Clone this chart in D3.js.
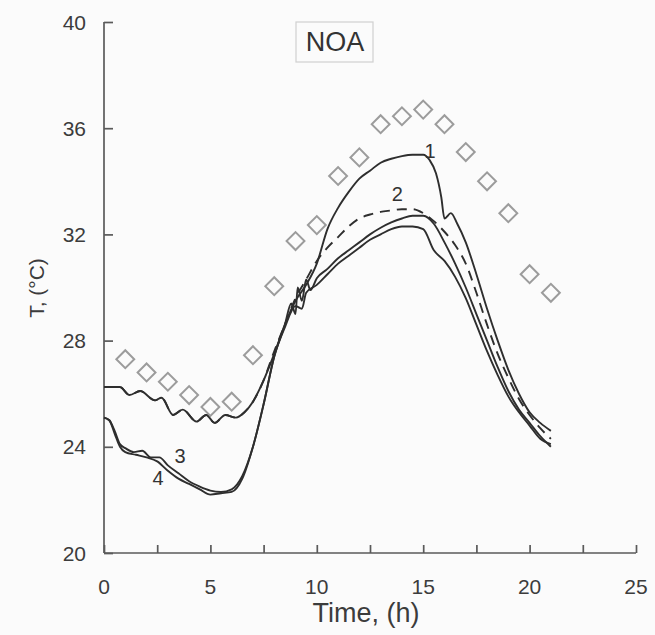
<!DOCTYPE html>
<html><head><meta charset="utf-8">
<script src="https://cdn.jsdelivr.net/npm/d3@7"></script>
<style>body{margin:0;background:#fbfbfb;} svg{display:block;}</style>
</head><body>
<svg id="c" width="655" height="635"></svg>
<script>
// ---- data ----
const xTicks = [0, 5, 10, 15, 20, 25];
const xMinorTicks = [0, 2.5, 5, 7.5, 10, 12.5, 15, 17.5, 20, 22.5, 25];
const yTicks = [20, 24, 28, 32, 36, 40];
const obsHours = [1,2,3,4,5,6,7,8,9,10,11,12,13,14,15,16,17,18,19,20,21];
const obsTemps = [27.3,26.8,26.45,25.95,25.5,25.7,27.45,30.05,31.75,32.35,34.2,34.9,36.15,36.45,36.7,36.15,35.1,34.0,32.8,30.5,29.8];

const c1t = [0,0.75,1.2,1.7,2.4,2.7,3.25,3.7,4.35,4.8,5.2,5.7,6.2,6.6,7.0,7.5,8.0,8.5,9.0,9.5,10.0,10.5,11.0,11.5,12.0,12.5,13.0,13.5,14.0,14.5,15.0,15.3,15.6,15.85,16.0,16.3,16.6,17.0,17.5,18.0,18.5,19.0,19.5,20.0,20.5,21.0];
const c1v = [26.25,26.25,25.95,26.1,25.75,25.85,25.2,25.4,24.95,25.2,24.9,25.2,25.1,25.3,25.7,26.5,27.5,28.6,29.5,30.1,30.9,32.2,33.0,33.6,34.1,34.4,34.7,34.85,34.95,35.0,35.0,34.8,34.3,33.4,32.6,32.8,32.4,31.7,30.5,29.2,28.0,26.9,26.0,25.3,24.9,24.6];

const c2t = [0,0.75,1.2,1.7,2.4,2.7,3.25,3.7,4.35,4.8,5.2,5.7,6.2,6.6,7.0,7.5,8.0,8.5,9.0,9.5,10.0,10.5,11.0,11.5,12.0,12.5,13.0,13.5,14.0,14.5,15.0,15.5,16.0,16.5,17.0,17.5,18.0,18.5,19.0,19.5,20.0,20.5,21.0];
const c2v = [26.25,26.25,25.95,26.1,25.75,25.85,25.2,25.4,24.95,25.2,24.9,25.2,25.1,25.3,25.7,26.5,27.6,28.6,29.6,30.3,31.0,31.5,31.9,32.3,32.6,32.75,32.85,32.9,32.95,32.95,32.8,32.5,32.1,31.6,30.9,29.8,28.6,27.5,26.6,25.8,25.2,24.7,24.3];

const c3t = [0,0.25,0.5,0.75,1.0,1.4,1.8,2.2,2.6,3.0,3.5,4.0,4.5,5.0,5.5,6.0,6.5,7.0,7.5,8.0,8.5,8.8,9.0,9.1,9.3,9.5,9.7,10.0,10.5,11.0,11.5,12.0,12.5,13.0,13.5,14.0,14.5,15.0,15.5,16.0,16.5,17.0,17.5,18.0,18.5,19.0,19.5,20.0,20.5,21.0];
const c3v = [25.1,25.0,24.6,24.1,23.95,23.8,23.85,23.6,23.6,23.3,23.0,22.7,22.5,22.35,22.3,22.4,22.9,24.0,25.6,27.4,28.6,29.4,29.0,30.0,29.5,30.3,29.9,30.35,30.7,31.1,31.4,31.7,32.0,32.25,32.45,32.6,32.7,32.7,32.4,31.7,30.9,30.0,29.0,28.0,27.0,26.1,25.4,24.9,24.4,24.0];

const c4t = [0,0.25,0.5,0.75,1.0,1.5,2.0,2.5,3.0,3.5,4.0,4.5,5.0,5.5,6.0,6.5,7.0,7.5,8.0,8.5,9.0,9.3,9.5,10.0,10.5,11.0,11.5,12.0,12.5,13.0,13.5,14.0,14.5,15.0,15.5,16.0,16.5,17.0,17.5,18.0,18.5,19.0,19.5,20.0,20.5,21.0];
const c4v = [25.1,25.0,24.5,24.0,23.8,23.7,23.6,23.45,23.1,22.8,22.6,22.4,22.2,22.25,22.3,22.8,24.0,25.6,27.4,28.5,29.3,29.2,29.8,30.1,30.5,30.9,31.2,31.5,31.8,32.0,32.2,32.3,32.3,32.2,31.4,31.0,30.4,29.6,28.6,27.6,26.7,25.9,25.3,24.8,24.3,24.1];

const curveLabels = ["1","2","3","4"];
const labelPos = [[15.32,34.88],[13.78,33.26],[3.57,23.39],[2.54,22.56]];

// ---- drawing ----
const svg = d3.select("#c");
const x = d3.scaleLinear().domain([0,25]).range([104,636]);
const y = d3.scaleLinear().domain([20,40]).range([553,22]);
const axisCol = "#5a5a5a", textCol = "#3c3c3c", lineCol = "#2e2e2e";
const font = "Liberation Sans, Arial, sans-serif";

// axes
const xa = svg.append("g").attr("transform","translate(0,553)")
  .call(d3.axisTop(x).tickValues(xMinorTicks).tickSize(8).tickFormat(""));
const ya = svg.append("g").attr("transform","translate(104,0)")
  .call(d3.axisRight(y).tickValues(yTicks).tickSize(9).tickFormat(""));
[xa,ya].forEach(g=>{g.selectAll("path,line").attr("stroke",axisCol).attr("stroke-width",1.7);});
xa.select(".domain").attr("d","M104,0H636");
ya.select(".domain").attr("d","M0,22V553");

svg.append("g").selectAll("text").data(xTicks).join("text")
  .attr("x",d=>x(d)).attr("y",594).attr("text-anchor","middle")
  .attr("font-family",font).attr("font-size",21).attr("fill",textCol).text(d=>d);
svg.append("g").selectAll("text").data(yTicks).join("text")
  .attr("x",86).attr("y",d=>y(d)+7.5).attr("text-anchor","end")
  .attr("font-family",font).attr("font-size",21).attr("fill",textCol).text(d=>d);

svg.append("text").attr("x",366).attr("y",622).attr("text-anchor","middle")
  .attr("font-family",font).attr("font-size",27).attr("fill",textCol).text("Time, (h)");
svg.append("text").attr("transform","translate(44,288) rotate(-90)").attr("text-anchor","middle")
  .attr("font-family",font).attr("font-size",21).attr("fill",textCol).text("T, (°C)");

// NOA box
svg.append("rect").attr("x",296).attr("y",22).attr("width",77).attr("height",40)
  .attr("fill","none").attr("stroke","#d0d0d0").attr("stroke-width",1.2);
svg.append("text").attr("x",335).attr("y",51).attr("text-anchor","middle")
  .attr("font-family",font).attr("font-size",27).attr("fill","#333").text("NOA");

// observed diamonds
const obs = obsHours.map((h,i)=>({h, v: obsTemps[i]}));
svg.append("g").selectAll("path").data(obs).join("path")
  .attr("d",d3.symbol(d3.symbolSquare, 160))
  .attr("transform",d=>`translate(${x(d.h)},${y(d.v)}) rotate(45)`)
  .attr("fill","none").attr("stroke","#9c9c9c").attr("stroke-width",2);

// curves
const line = d3.line().x(d=>x(d[0])).y(d=>y(d[1])).curve(d3.curveMonotoneX);
const series = [
  {t:c1t, v:c1v, dash:null},
  {t:c2t, v:c2v, dash:"10,7"},
  {t:c3t, v:c3v, dash:null},
  {t:c4t, v:c4v, dash:null}
];
series.forEach(s=>{
  svg.append("path").datum(s.t.map((t,i)=>[t,s.v[i]]))
    .attr("d",line).attr("fill","none").attr("stroke",lineCol)
    .attr("stroke-width",1.9).attr("stroke-dasharray",s.dash);
});

// curve labels
svg.append("g").selectAll("text").data(curveLabels).join("text")
  .attr("x",(d,i)=>x(labelPos[i][0])).attr("y",(d,i)=>y(labelPos[i][1]))
  .attr("text-anchor","middle").attr("font-family",font).attr("font-size",20)
  .attr("fill","#333").text(d=>d);
</script>
</body></html>
